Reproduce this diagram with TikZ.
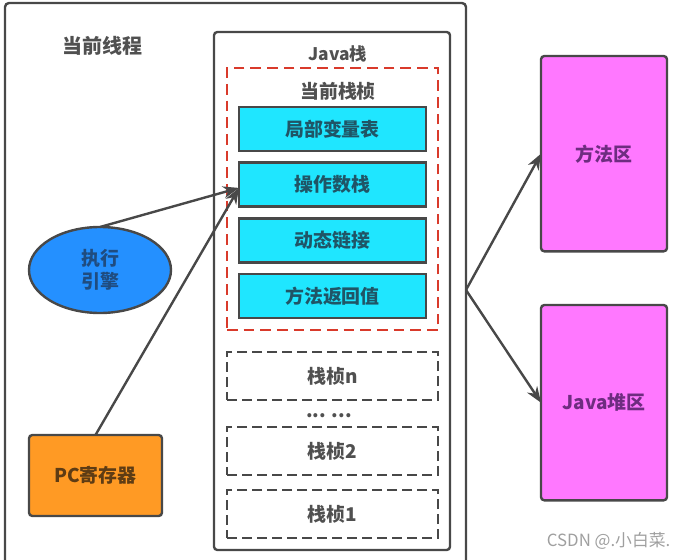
\documentclass[tikz,border=0pt]{standalone}
\usepackage{fontspec}
\setmainfont{Noto Sans CJK SC}
\usetikzlibrary{positioning, shapes.geometric, arrows.meta}

\definecolor{inkgray}{HTML}{505050}
\definecolor{framegray}{HTML}{484848}
\definecolor{slotcyan}{HTML}{1FE6FF}
\definecolor{engineblue}{HTML}{2490FF}
\definecolor{regorange}{HTML}{FF9A24}
\definecolor{areapink}{HTML}{FF78FF}
\definecolor{dashred}{HTML}{D93A2B}
\definecolor{slotink}{HTML}{1F5566}
\definecolor{engineink}{HTML}{1F4C80}
\definecolor{regink}{HTML}{5E3C14}
\definecolor{areaink}{HTML}{6E2C80}

\tikzset{
	label text/.style={text=inkgray, font=\fontsize{14.2pt}{17pt}\selectfont\bfseries},
	frame box/.style={draw=framegray, line width=1.8pt, rounded corners=2.5pt, outer sep=0pt, inner sep=0pt, align=center},
	slot/.style={frame box, label text, text=slotink, rounded corners=0pt, fill=slotcyan, minimum width=140.25pt, minimum height=33pt},
	old frame/.style={draw=framegray, line width=2pt, dash pattern=on 7.5pt off 3.75pt, outer sep=0pt, label text, minimum width=158.25pt, minimum height=36pt},
	area/.style={frame box, label text, text=areaink, fill=areapink, minimum width=94.5pt, minimum height=146.5pt},
	link/.style={draw=framegray, line width=1.8pt, -{Stealth[length=12pt, width=9pt]}},
}

\begin{document}
\begin{tikzpicture}[x=.75pt, y=-.75pt, node distance=8.75pt]
		\useasboundingbox (0,0) rectangle (686,560);
		
		% outer frame runs past the lower edge
		\coordinate (outer sw) at (5,560);
		\coordinate (outer ne) at (466,3);
		\coordinate (outer se) at (466,560);
		\draw[framegray, line width=1.8pt, rounded corners=3pt] (outer sw) |- (outer ne) -- (outer se);
		\node[label text, font=\fontsize{15pt}{18pt}\selectfont\bfseries] (thread) at (102,46) {当前线程};
		
		\node[frame box, minimum width=177pt, minimum height=388.5pt, anchor=north west] (stack) at (214,32) {};
		\node[label text, font=\fontsize{13pt}{16pt}\selectfont\bfseries] (stack title) at (338,54) {Java栈};
		\node[draw=dashred, line width=2pt, dash pattern=on 8pt off 4.5pt, outer sep=0pt, minimum width=158.25pt, minimum height=196.5pt, anchor=north west] (current) at (227,68) {};
		\node[label text] (current title) at (338,91) {当前栈桢};
		
		\node[slot, anchor=north west]  (locals)  at (239,107)  {局部变量表};
		\node[slot, below=of locals]    (operand) {操作数栈};
		\node[slot, below=of operand]   (dynamic) {动态链接};
		\node[slot, below=of dynamic]   (return)  {方法返回值};
		
		\node[old frame, anchor=north west] (frame n) at (227,352) {栈桢n};
		\node[label text] (dots) at (329,416) {... ...};
		\node[old frame, anchor=north west] (frame 2) at (227,427) {栈桢2};
		\node[old frame, anchor=north west] (frame 1) at (227,490) {栈桢1};
		
		\node[draw=framegray, line width=1.8pt, ellipse, fill=engineblue, outer sep=0pt, inner sep=0pt, minimum width=106.5pt, minimum height=64.5pt, label text, text=engineink, align=center] (engine) at (100,270) {执行\\引擎};
		\node[frame box, label text, text=regink, fill=regorange, minimum width=99.75pt, minimum height=60.75pt, anchor=north west] (pc) at (29,435) {PC寄存器};
		
		\node[area, anchor=north west, text depth=-3pt] (method) at (541,56)  {方法区};
		\node[area, anchor=north west] (heap)   at (541,305) {Java堆区};
		
		\coordinate (fork) at (466,290);
		\draw[link] (engine.north) -- (operand.182);
		\draw[link] (pc.north) -- (operand.182);
		\draw[link] (fork) -- (method.west);
		\draw[link] (fork) -- (heap.west);
		
		\node[text=gray!75, font=\fontsize{12.6pt}{14pt}\selectfont, anchor=east] (mark) at (675,541) {CSDN @.小白菜.};
	\end{tikzpicture}
\end{document}
